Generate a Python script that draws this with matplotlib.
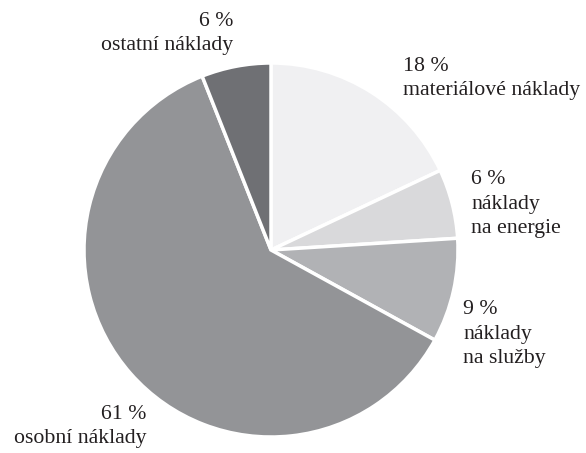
import matplotlib
matplotlib.use("Agg")
import matplotlib.pyplot as plt

# Data
categories = ["materiálové náklady", "náklady\nna energie", "náklady\nna služby",
              "osobní náklady", "ostatní náklady"]
shares = [18, 6, 9, 61, 6]
colors = ["#f0f0f2", "#d9d9db", "#b1b2b5", "#939497", "#6f7074"]

plt.rcParams['font.family'] = ['Liberation Serif', 'DejaVu Serif']

fig = plt.figure(figsize=(5.86, 4.53), dpi=100)
ax = fig.add_axes([0, 0, 1, 1])

ax.pie(shares, colors=colors, startangle=90, counterclock=False,
       center=(271, 203), radius=187, frame=True,
       wedgeprops=dict(edgecolor='white', linewidth=2.5))
ax.set_xlim(0, 586)
ax.set_ylim(0, 453)
ax.set_aspect('equal')
ax.axis('off')

# label placement (x, baseline of last line, alignment)
label_pos = [(403, 358, 'left'), (471, 220, 'left'), (463, 90, 'left'),
             (146, 10, 'right'), (233, 403, 'right')]
for cat, val, (x, y, ha) in zip(categories, shares, label_pos):
    ax.text(x, y, f"{val} %\n{cat}", ha=ha, va='baseline', multialignment=ha,
            fontsize=15.7, color='#231f20', linespacing=1.39)

fig.savefig("out.png", dpi=100)
